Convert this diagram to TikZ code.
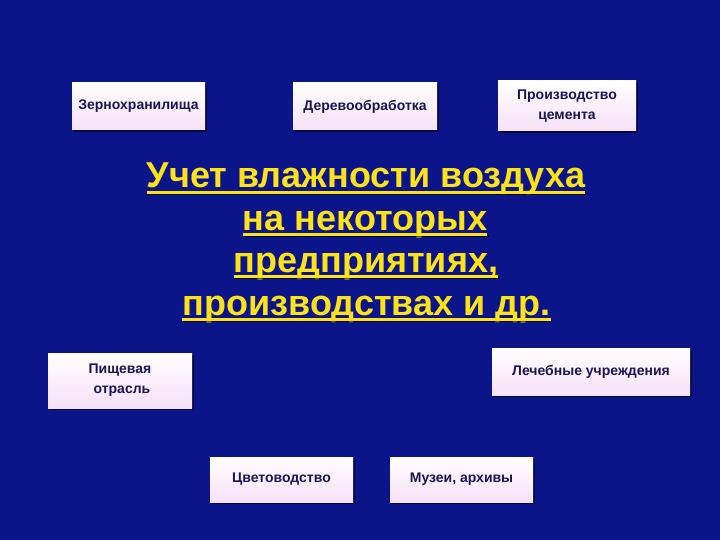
\documentclass[tikz,border=0pt]{standalone}
\usepackage{fontspec}
\setmainfont{Liberation Sans}
\usetikzlibrary{shadows,calc}
\definecolor{slidebg}{RGB}{12,20,138}
\definecolor{boxtext}{RGB}{25,22,85}
\definecolor{titleyellow}{RGB}{255,226,24}
\definecolor{boxpink}{RGB}{246,224,246}
\tikzset{
  box/.style={draw=none, top color=white, bottom color=boxpink, inner sep=2pt,
    align=center, text=boxtext, font=\fontsize{14}{20}\selectfont\bfseries,
    drop shadow={shadow xshift=2pt, shadow yshift=-2pt, opacity=0.55, fill=black}},
  titleline/.style={anchor=base, inner sep=0pt, text=titleyellow,
    font=\fontsize{36}{42}\selectfont\bfseries},
  uline/.style={titleyellow, line width=2.5pt},
}
\begin{document}
\begin{tikzpicture}[x=1pt,y=-1pt]
	\fill[slidebg] (0,0) rectangle (720,540);
	\useasboundingbox (0,0) rectangle (720,540);
	% boxes, top row
	\node[box, minimum width=133pt, minimum height=47pt] (zerno) at (138.5,106.5) {Зернохранилища};
	\node[box, minimum width=144pt, minimum height=47pt] (derevo) at (365,106.5) {Деревообработка};
	\node[box, minimum width=138pt, minimum height=50pt] (cement) at (567,106) {Производство\\цемента};
	% boxes, middle row
	\node[box, minimum width=144pt, minimum height=55pt] (pishch) at (120,380.5) {Пищевая\\\ отрасль};
	\node[box, minimum width=198pt, minimum height=47pt] (lecheb) at (591,371.5) {Лечебные учреждения};
	% boxes, bottom row
	\node[box, minimum width=143pt, minimum height=45pt] (cvet) at (281.5,479.5) {Цветоводство};
	\node[box, minimum width=143pt, minimum height=45pt] (muzei) at (461.5,479.5) {Музеи, архивы};
	% title
	\node[titleline] (t1) at (366,188) {Учет влажности воздуха};
	\node[titleline] (t2) at (365,230) {на некоторых};
	\node[titleline] (t3) at (366,272) {предприятиях,};
	\node[titleline] (t4) at (366.5,315) {производствах и др.};
	\foreach \t in {t1,t2,t3,t4}{
		\draw[black, opacity=0.6, line width=2.5pt] ([xshift=1.5pt,yshift=-6pt]\t.base west) -- ([xshift=1.5pt,yshift=-6pt]\t.base east);
		\draw[uline] ([yshift=-4.5pt]\t.base west) -- ([yshift=-4.5pt]\t.base east);
	}
\end{tikzpicture}
\end{document}
